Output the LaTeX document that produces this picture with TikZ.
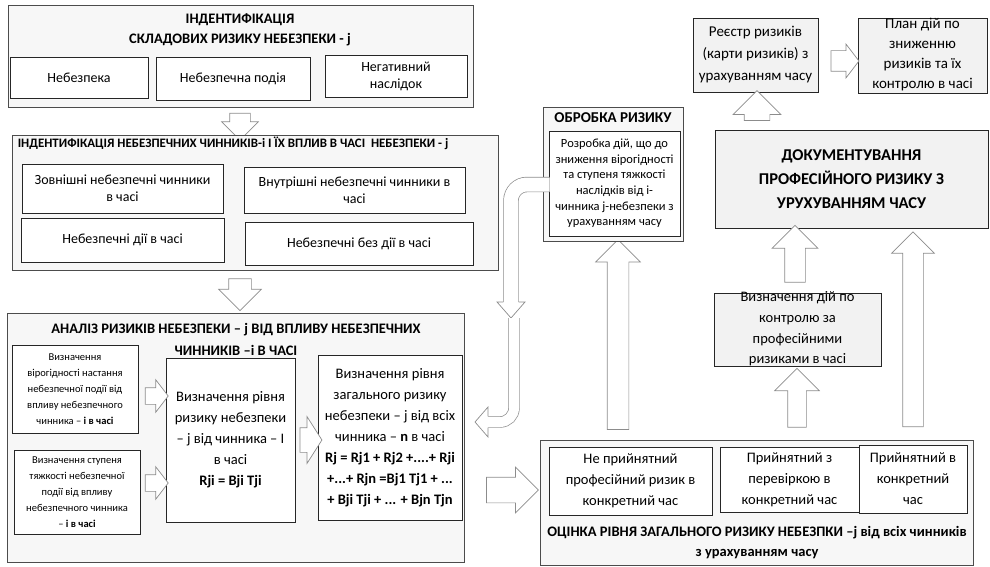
\documentclass[tikz,border=0pt]{standalone}
\usepackage{fontspec}
\setmainfont{Carlito}
\usetikzlibrary{shapes.arrows, calc}

\newcommand\fsmall{\fontsize{10.5}{16}\selectfont}
\newcommand\fmid{\fontsize{12.5}{15.6}\selectfont}
\newcommand\fnorm{\fontsize{14}{17}\selectfont}
\newcommand\fbig{\fontsize{14.5}{21}\selectfont}

\tikzset{
  frame/.style={draw=black!70, fill=black!3, line width=0.8pt, inner sep=0pt},
  box/.style={draw=black!85, fill=white, line width=0.7pt, inner sep=0pt, align=center},
  greybox/.style={box, fill=black!5},
  txt/.style={align=center, inner sep=0pt},
  title/.style={txt, font=\bfseries\fontsize{14.5}{20}\selectfont},
  blockarr/.style={single arrow, draw=black!45, fill=white, line width=0.7pt,
    inner xsep=0pt, single arrow tip angle=90},
  bentarr/.style={draw=black!45, line width=0.7pt, double=white},
  arrhead/.style={draw=black!45, fill=white, line width=0.7pt}
}

\begin{document}
\begin{tikzpicture}[x=1pt, y=-1pt]
    \useasboundingbox (0,0) rectangle (990,567);
    % identification of risk parts
    \node [frame, minimum width=465, minimum height=102] (ident) at (240.5,56) {};
    \node [title] (identT) at (240,30) {ІНДЕНТИФІКАЦІЯ\\СКЛАДОВИХ РИЗИКУ НЕБЕЗПЕКИ - j};
    \node [box, font=\fnorm, minimum width=138, minimum height=41] (hazard) at (79,77.5) {Небезпека};
    \node [box, font=\fnorm, minimum width=154, minimum height=43] (event) at (233,78.5) {Небезпечна подія};
    \node [box, font=\fnorm, minimum width=142, minimum height=42] (conseq) at (396,76) {Негативний\\наслідок};
    \node [blockarr, rotate=270, minimum height=27, inner ysep=10, single arrow head extend=8] (a1) at (240,121.5) {};
    % identification of factors
    \node [frame, minimum width=486, minimum height=135] (factors) at (255,202.5) {};
    \node [title, font=\bfseries\fontsize{12.9}{15}\selectfont] (factorsT) at (233,143)
      {ІНДЕНТИФІКАЦІЯ НЕБЕЗПЕЧНИХ ЧИННИКІВ-і І ЇХ ВПЛИВ В ЧАСІ~~НЕБЕЗПЕКИ - j};
    \node [box, font=\fnorm, minimum width=201, minimum height=49] (ext) at (122.5,188.5) {Зовнішні небезпечні чинники\\в часі};
    \node [box, font=\fnorm, minimum width=221, minimum height=46] (int) at (354.5,190) {Внутрішні небезпечні чинники в\\часі};
    \node [box, font=\fnorm, minimum width=203, minimum height=44] (act) at (122.5,240) {Небезпечні дії в часі};
    \node [box, font=\fnorm, minimum width=228, minimum height=43] (noact) at (359,243.5) {Небезпечні без дії в часі};
    \node [blockarr, rotate=270, minimum height=32, inner ysep=11, single arrow head extend=10] (a2) at (240,289) {};
    % analysis
    \node [frame, minimum width=457, minimum height=249] (analysis) at (235.5,437.5) {};
    \node [title, font=\bfseries\fontsize{14.5}{22}\selectfont] (analysisT) at (236,339)
      {АНАЛІЗ РИЗИКІВ НЕБЕЗПЕКИ – j ВІД ВПЛИВУ НЕБЕЗПЕЧНИХ\\ЧИННИКІВ –і В ЧАСІ};
    \node [box, font=\fsmall, minimum width=126, minimum height=88] (prob) at (75,389)
      {Визначення\\вірогідності настання\\небезпечної події від\\впливу небезпечного\\чинника – \textbf{і в часі}};
    \node [box, font=\fsmall, minimum width=126, minimum height=84] (sever) at (77,492)
      {Визначення ступеня\\тяжкості небезпечної\\події від впливу\\небезпечного чинника\\– \textbf{і в часі}};
    \node [box, font=\fbig, minimum width=129, minimum height=164] (level) at (230.5,440)
      {Визначення рівня\\ризику небезпеки\\– j від чинника – І\\в часі\\\textbf{Rji = Bji Tji}};
    \node [box, font=\fbig, minimum width=144, minimum height=165] (total) at (390,437.5)
      {Визначення рівня\\загального ризику\\небезпеки – j від всіх\\чинника – \textbf{n} в часі\\
       \textbf{Rj = Rj1 + Rj2 +....+ Rji}\\\textbf{+...+ Rjn =Bj1 Tj1 + ...}\\\textbf{+ Bji Tji + ... + Bjn Tjn}};
    \node [blockarr, minimum height=23, inner ysep=8, single arrow head extend=8, single arrow tip angle=105] (a3) at (153.5,396) {};
    \node [blockarr, minimum height=23, inner ysep=8, single arrow head extend=8, single arrow tip angle=105] (a4) at (153.5,483) {};
    \node [blockarr, minimum height=22, inner ysep=12, single arrow head extend=11, single arrow tip angle=115] (a5) at (307,440) {};
    \node [blockarr, minimum height=52, inner ysep=12.5, single arrow head extend=10] (a6) at (506,490) {};
    % assessment
    \node [frame, minimum width=433, minimum height=125] (assess) at (756.5,502.5) {};
    \node [box, font=\fbig, minimum width=163, minimum height=68] (unacc) at (630.5,481) {Не прийнятний\\професійний ризик в\\конкретний час};
    \node [box, font=\fbig, minimum width=139, minimum height=65] (accchk) at (789.5,479.5) {Прийнятний з\\перевіркою в\\конкретний час};
    \node [box, font=\fbig, minimum width=108, minimum height=68] (acc) at (913,479) {Прийнятний в\\конкретний\\час};
    \node [title] (assessT) at (757,543)
      {ОЦІНКА РІВНЯ ЗАГАЛЬНОГО РИЗИКУ НЕБЕЗПКИ –j від всіх чинників\\з урахуванням часу};
    % control and documenting
    \node [greybox, minimum width=167, minimum height=73] (ctrl) at (797.5,329.5) {};
    \node [txt, font=\fontsize{14.5}{20.7}\selectfont] (ctrlT) at (797.5,329) {Визначення дій по\\контролю за\\професійними\\ризиками в часі};
    \node [greybox, font=\bfseries\fontsize{16.5}{24}\selectfont, minimum width=273, minimum height=98] (doc) at (851.5,179)
      {ДОКУМЕНТУВАННЯ\\ПРОФЕСІЙНОГО РИЗИКУ З\\УРУХУВАННЯМ ЧАСУ};
    \node [greybox, font=\fontsize{15}{22}\selectfont, minimum width=125, minimum height=74] (reg) at (755.5,55) {Реєстр ризиків\\(карти ризиків) з\\урахуванням часу};
    \node [greybox, minimum width=129, minimum height=75] (plan) at (922.5,55.5) {};
    \node [txt, font=\fontsize{15}{20}\selectfont] (planT) at (922.5,55) {План дій по\\зниженню\\ризиків та їх\\контролю в часі};
    \node [blockarr, rotate=90, minimum height=190, inner ysep=10.5, single arrow head extend=11.5] (a7) at (618,340) {};
    \node [blockarr, rotate=90, minimum height=59, inner ysep=9, single arrow head extend=13] (a8) at (797,402.5) {};
    \node [blockarr, rotate=90, minimum height=57, inner ysep=10, single arrow head extend=12.5] (a9) at (795,259) {};
    \node [blockarr, rotate=90, minimum height=195, inner ysep=10, single arrow head extend=11] (a10) at (913,334.5) {};
    \node [blockarr, rotate=90, minimum height=30, inner ysep=12.5, single arrow head extend=11] (a11) at (757,112) {};
    \node [blockarr, minimum height=28, inner ysep=10, single arrow head extend=6.5, single arrow tip angle=105] (a12) at (841,61) {};
    % treatment
    \node [frame, minimum width=140, minimum height=134] (treat) at (613,174) {};
    \node [title, font=\bfseries\fontsize{15}{18}\selectfont] (treatT) at (613,118) {ОБРОБКА РИЗИКУ};
    \node [box, font=\fmid, minimum width=131, minimum height=105] (treatB) at (614.5,183.5)
      {Розробка дій, що до\\зниження вірогідності\\та ступеня тяжкості\\наслідків від і-\\чинника j-небезпеки з\\урахуванням часу};
    % bent arrows back to the analysis
    \coordinate (b1s) at ($(treatB.west)+(1,1)$);
    \coordinate (b1e) at (511,302);
    \draw [bentarr, double distance=14pt, rounded corners=16pt] (b1s) -| (b1e);
    \draw [arrhead] (b1e) ++(-7.7,0) -- ++(-6.3,0) -- ++(14,16) -- ++(14,-16) -- ++(-6.3,0);
    \coordinate (b2s) at (514,318);
    \coordinate (b2e) at (488,422);
    \draw [bentarr, double distance=10pt, rounded corners=14pt] (b2s) |- (b2e);
    \draw [arrhead] (b2e) ++(0,-5.7) -- ++(0,-9.3) -- ++(-13,15) -- ++(13,15) -- ++(0,-9.3);
\end{tikzpicture}
\end{document}
